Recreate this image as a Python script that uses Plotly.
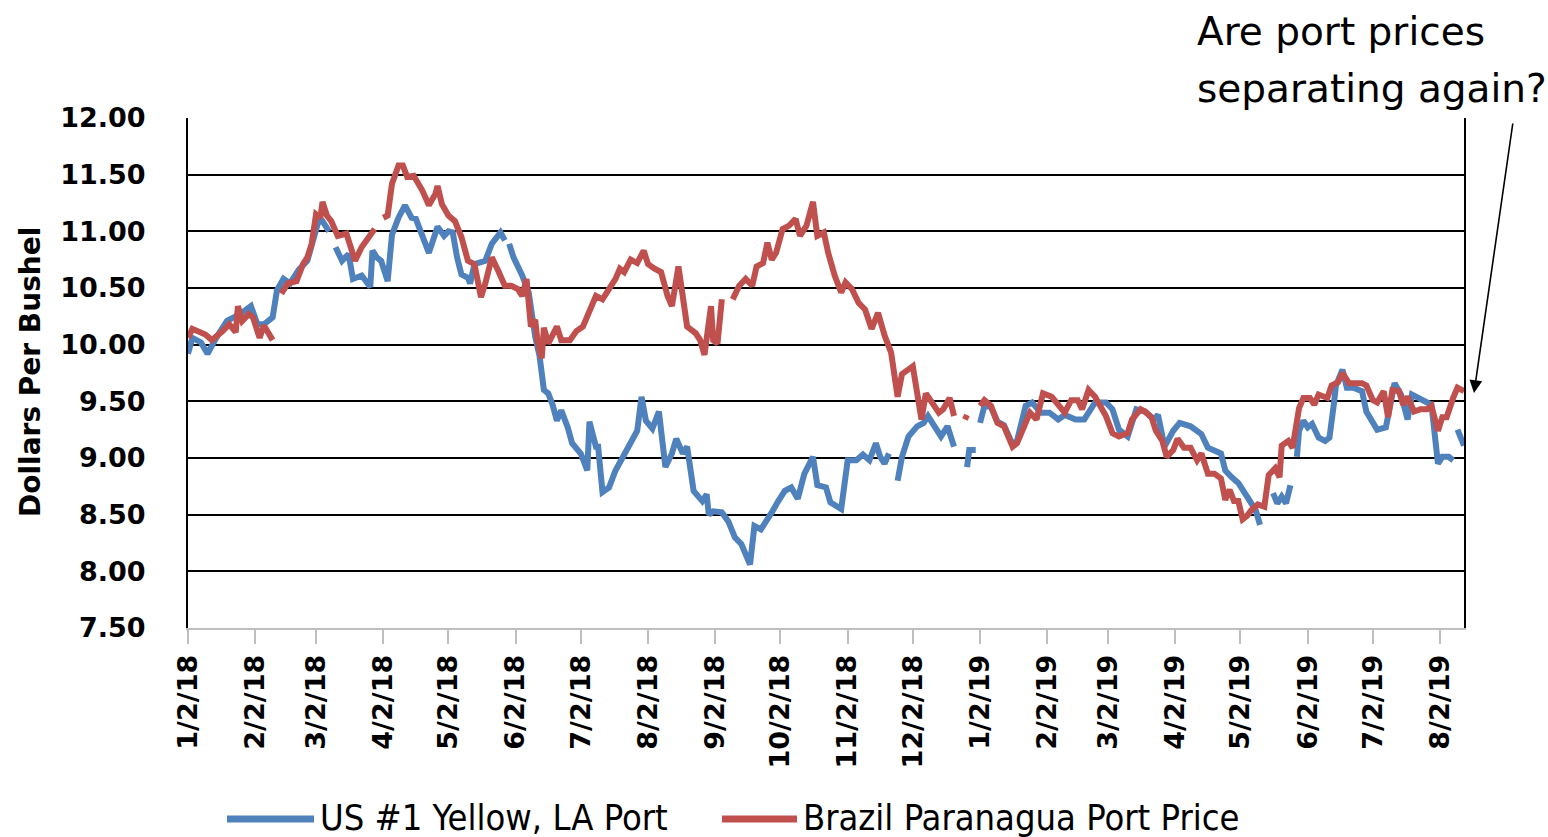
import plotly.graph_objects as go

# ---------------- data ----------------
us_dates = [
    "2018-01-02", "2018-01-04", "2018-01-08", "2018-01-11", "2018-01-15", "2018-01-20", "2018-01-26",
    "2018-01-31", "2018-02-03", "2018-02-06", "2018-02-10", "2018-02-12", "2018-02-15", "2018-02-18",
    "2018-02-22", "2018-02-26", "2018-03-03", "2018-03-05", "2018-03-08", "2018-03-10", "2018-03-11",
    "2018-03-14", "2018-03-17", "2018-03-19", "2018-03-23", "2018-03-27", "2018-03-28", "2018-03-30",
    "2018-04-01", "2018-04-04", "2018-04-06", "2018-04-09", "2018-04-12", "2018-04-15", "2018-04-17",
    "2018-04-20", "2018-04-23", "2018-04-27", "2018-04-30", "2018-05-02", "2018-05-04", "2018-05-06",
    "2018-05-08", "2018-05-11", "2018-05-12", "2018-05-14", "2018-05-19", "2018-05-22", "2018-05-26",
    "2018-05-28", "2018-05-29", "2018-05-30", "2018-06-01", "2018-06-05", "2018-06-08", "2018-06-11",
    "2018-06-13", "2018-06-15", "2018-06-17", "2018-06-19", "2018-06-21", "2018-06-23", "2018-06-26",
    "2018-06-28", "2018-07-02", "2018-07-05", "2018-07-06", "2018-07-09", "2018-07-10", "2018-07-12",
    "2018-07-15", "2018-07-18", "2018-07-21", "2018-07-25", "2018-07-28", "2018-07-30", "2018-08-01",
    "2018-08-04", "2018-08-07", "2018-08-10", "2018-08-13", "2018-08-15", "2018-08-18", "2018-08-20",
    "2018-08-23", "2018-08-27", "2018-08-29", "2018-08-30", "2018-09-01", "2018-09-05", "2018-09-08",
    "2018-09-11", "2018-09-14", "2018-09-18", "2018-09-20", "2018-09-23", "2018-09-25", "2018-09-28",
    "2018-10-01", "2018-10-04", "2018-10-07", "2018-10-10", "2018-10-13", "2018-10-17", "2018-10-19",
    "2018-10-23", "2018-10-25", "2018-10-30", "2018-11-02", "2018-11-06", "2018-11-09", "2018-11-12",
    "2018-11-15", "2018-11-17", "2018-11-19", "2018-11-21", "2018-11-23", "2018-11-25", "2018-11-27",
    "2018-11-30", "2018-12-04", "2018-12-07", "2018-12-09", "2018-12-11", "2018-12-15", "2018-12-18",
    "2018-12-21", "2018-12-23", "2018-12-27", "2018-12-28", "2018-12-31", "2019-01-01", "2019-01-02",
    "2019-01-04", "2019-01-07", "2019-01-10", "2019-01-13", "2019-01-17", "2019-01-19", "2019-01-23",
    "2019-01-26", "2019-01-30", "2019-02-03", "2019-02-07", "2019-02-10", "2019-02-15", "2019-02-19",
    "2019-02-24", "2019-03-01", "2019-03-04", "2019-03-07", "2019-03-11", "2019-03-15", "2019-03-19",
    "2019-03-23", "2019-03-25", "2019-03-28", "2019-04-01", "2019-04-04", "2019-04-09", "2019-04-14",
    "2019-04-17", "2019-04-23", "2019-04-25", "2019-04-28", "2019-05-01", "2019-05-04", "2019-05-06",
    "2019-05-09", "2019-05-11", "2019-05-13", "2019-05-17", "2019-05-19", "2019-05-21", "2019-05-23",
    "2019-05-25", "2019-05-27", "2019-05-28", "2019-05-29", "2019-05-31", "2019-06-02", "2019-06-04",
    "2019-06-07", "2019-06-10", "2019-06-12", "2019-06-14", "2019-06-15", "2019-06-18", "2019-06-20",
    "2019-06-23", "2019-06-27", "2019-06-29", "2019-07-02", "2019-07-04", "2019-07-08", "2019-07-11",
    "2019-07-12", "2019-07-15", "2019-07-18", "2019-07-20", "2019-07-23", "2019-07-26", "2019-07-29",
    "2019-08-01", "2019-08-03", "2019-08-06", "2019-08-08", "2019-08-09", "2019-08-10", "2019-08-13",
]
us_values = [
    9.92, 10.06, 10.02, 9.92, 10.06, 10.21, 10.27,
    10.34, 10.18, 10.18, 10.24, 10.48, 10.58, 10.54,
    10.66, 10.74, 11.08, 11.09, 11.00, None, 10.86,
    10.74, 10.80, 10.58, 10.61, 10.51, 10.83, 10.77,
    10.74, 10.56, 10.97, 11.12, 11.23, 11.12, 11.11,
    10.95, 10.81, 11.04, 10.96, 11.00, 10.99, 10.77,
    10.62, 10.59, 10.54, 10.71, 10.74, 10.89, 10.99,
    10.92, None, 10.89, 10.77, 10.61, 10.46, 10.07,
    9.90, 9.60, 9.57, 9.47, 9.33, 9.42, 9.27,
    9.13, 9.04, 8.89, 9.32, 9.10, 9.10, 8.70,
    8.74, 8.89, 8.99, 9.13, 9.24, 9.54, 9.33,
    9.26, 9.41, 8.92, 9.04, 9.17, 9.04, 9.10,
    8.71, 8.62, 8.68, 8.50, 8.53, 8.52, 8.44,
    8.30, 8.24, 8.06, 8.40, 8.37, 8.44, 8.52,
    8.62, 8.71, 8.74, 8.64, 8.86, 9.01, 8.76,
    8.74, 8.61, 8.55, 8.98, 8.98, 9.03, 8.98,
    9.13, 9.01, 8.95, 9.04, None, 8.80, 9.01,
    9.19, 9.28, 9.31, 9.37, 9.31, 9.19, 9.28,
    9.10, None, 8.92, 9.07, 9.07, None, 9.31,
    9.46, 9.45, 9.32, 9.29, 9.12, 9.15, 9.46,
    9.49, 9.40, 9.40, 9.34, 9.38, 9.34, 9.34,
    9.49, 9.49, 9.43, 9.25, 9.19, 9.43, 9.41,
    9.34, 9.38, 9.10, 9.24, 9.31, 9.28, 9.21,
    9.09, 9.04, 8.89, 8.83, 8.78, 8.69, 8.62,
    8.54, 8.41, None, 8.69, 8.60, 8.66, 8.60,
    8.76, None, 9.01, 9.24, 9.33, 9.27, 9.30,
    9.18, 9.15, 9.18, 9.47, 9.64, 9.78, 9.62,
    9.62, 9.59, 9.41, 9.30, 9.25, 9.27, 9.59,
    9.66, 9.56, 9.34, 9.56, 9.53, 9.50, 9.47,
    8.95, 9.01, 9.01, 8.98, None, 9.25, 9.11,
]

br_dates = [
    "2018-01-02", "2018-01-04", "2018-01-10", "2018-01-13", "2018-01-18", "2018-01-21", "2018-01-24",
    "2018-01-25", "2018-01-27", "2018-01-30", "2018-02-01", "2018-02-04", "2018-02-06", "2018-02-10",
    "2018-02-12", "2018-02-14", "2018-02-17", "2018-02-21", "2018-02-24", "2018-02-26", "2018-02-28",
    "2018-03-02", "2018-03-04", "2018-03-05", "2018-03-07", "2018-03-09", "2018-03-12", "2018-03-16",
    "2018-03-20", "2018-03-23", "2018-03-26", "2018-03-29", "2018-03-31", "2018-04-02", "2018-04-04",
    "2018-04-06", "2018-04-09", "2018-04-11", "2018-04-13", "2018-04-16", "2018-04-20", "2018-04-23",
    "2018-04-26", "2018-04-27", "2018-04-29", "2018-05-02", "2018-05-05", "2018-05-08", "2018-05-11",
    "2018-05-14", "2018-05-17", "2018-05-19", "2018-05-22", "2018-05-25", "2018-05-28", "2018-05-31",
    "2018-06-03", "2018-06-05", "2018-06-07", "2018-06-09", "2018-06-11", "2018-06-12", "2018-06-14",
    "2018-06-15", "2018-06-17", "2018-06-21", "2018-06-23", "2018-06-27", "2018-06-30", "2018-07-03",
    "2018-07-06", "2018-07-09", "2018-07-12", "2018-07-15", "2018-07-18", "2018-07-20", "2018-07-22",
    "2018-07-25", "2018-07-28", "2018-07-31", "2018-08-02", "2018-08-05", "2018-08-08", "2018-08-11",
    "2018-08-13", "2018-08-16", "2018-08-18", "2018-08-20", "2018-08-24", "2018-08-26", "2018-08-28",
    "2018-08-31", "2018-09-01", "2018-09-03", "2018-09-05", "2018-09-08", "2018-09-10", "2018-09-13",
    "2018-09-16", "2018-09-19", "2018-09-21", "2018-09-24", "2018-09-26", "2018-09-28", "2018-09-30",
    "2018-10-03", "2018-10-06", "2018-10-09", "2018-10-11", "2018-10-14", "2018-10-17", "2018-10-19",
    "2018-10-22", "2018-10-24", "2018-10-27", "2018-10-30", "2018-11-01", "2018-11-04", "2018-11-07",
    "2018-11-10", "2018-11-13", "2018-11-16", "2018-11-19", "2018-11-22", "2018-11-25", "2018-11-27",
    "2018-12-02", "2018-12-04", "2018-12-06", "2018-12-08", "2018-12-11", "2018-12-14", "2018-12-16",
    "2018-12-19", "2018-12-21", "2018-12-23", "2018-12-26", "2018-12-27", "2018-12-30", "2019-01-02",
    "2019-01-04", "2019-01-07", "2019-01-10", "2019-01-13", "2019-01-17", "2019-01-19", "2019-01-23",
    "2019-01-25", "2019-01-28", "2019-01-31", "2019-02-04", "2019-02-07", "2019-02-10", "2019-02-13",
    "2019-02-16", "2019-02-18", "2019-02-21", "2019-02-24", "2019-02-27", "2019-03-01", "2019-03-04",
    "2019-03-07", "2019-03-11", "2019-03-13", "2019-03-17", "2019-03-19", "2019-03-22", "2019-03-24",
    "2019-03-27", "2019-03-29", "2019-04-01", "2019-04-03", "2019-04-06", "2019-04-09", "2019-04-12",
    "2019-04-14", "2019-04-17", "2019-04-20", "2019-04-23", "2019-04-25", "2019-04-27", "2019-04-29",
    "2019-05-01", "2019-05-03", "2019-05-05", "2019-05-07", "2019-05-10", "2019-05-13", "2019-05-15",
    "2019-05-18", "2019-05-20", "2019-05-21", "2019-05-24", "2019-05-26", "2019-05-29", "2019-05-31",
    "2019-06-03", "2019-06-05", "2019-06-07", "2019-06-11", "2019-06-13", "2019-06-16", "2019-06-18",
    "2019-06-21", "2019-06-23", "2019-06-27", "2019-06-29", "2019-07-02", "2019-07-04", "2019-07-07",
    "2019-07-09", "2019-07-11", "2019-07-14", "2019-07-16", "2019-07-18", "2019-07-21", "2019-07-24",
    "2019-07-27", "2019-07-29", "2019-08-01", "2019-08-03", "2019-08-05", "2019-08-08", "2019-08-10",
    "2019-08-13",
]
br_values = [
    10.06, 10.14, 10.09, 10.04, 10.12, 10.18, 10.11,
    10.34, 10.21, 10.27, 10.24, 10.06, 10.17, 10.04,
    None, 10.45, 10.54, 10.56, 10.71, 10.77, 10.89,
    11.15, 11.12, 11.26, 11.14, 11.09, 10.96, 10.98,
    10.74, 10.86, 10.95, 11.02, None, 11.12, 11.14,
    11.42, 11.58, 11.58, 11.48, 11.49, 11.36, 11.23,
    11.33, 11.40, 11.24, 11.14, 11.09, 10.95, 10.74,
    10.71, 10.42, 10.54, 10.77, 10.65, 10.52, 10.52,
    10.49, 10.43, 10.58, 10.16, 10.22, 10.04, 9.88,
    10.15, 10.01, 10.16, 10.04, 10.04, 10.12, 10.16,
    10.28, 10.43, 10.40, 10.49, 10.58, 10.67, 10.64,
    10.75, 10.72, 10.83, 10.71, 10.67, 10.64, 10.43,
    10.34, 10.69, 10.40, 10.16, 10.10, 10.04, 9.91,
    10.34, 10.04, 10.01, 10.40, None, 10.40, 10.52,
    10.58, 10.52, 10.69, 10.72, 10.90, 10.75, 10.81,
    11.02, 11.05, 11.11, 10.96, 11.05, 11.26, 10.96,
    10.99, 10.81, 10.61, 10.46, 10.55, 10.49, 10.37,
    10.31, 10.14, 10.28, 10.08, 9.93, 9.54, 9.74,
    9.81, 9.60, 9.34, 9.57, 9.49, 9.40, 9.43,
    9.53, 9.37, None, 9.34, 9.38, None, 9.46,
    9.51, 9.46, 9.31, 9.28, 9.10, 9.13, 9.31,
    9.40, 9.34, 9.57, 9.54, 9.46, 9.40, 9.51,
    9.51, 9.43, 9.60, 9.54, 9.43, 9.37, 9.22,
    9.19, 9.22, 9.34, 9.43, 9.41, 9.36, 9.24,
    9.15, 9.01, 9.07, 9.17, 9.09, 9.09, 8.98,
    9.04, 8.86, 8.86, 8.82, 8.63, 8.72, 8.62,
    8.62, 8.46, 8.49, 8.54, 8.59, 8.57, 8.85,
    8.91, 8.83, 9.11, 9.15, 9.09, 9.44, 9.53,
    9.53, 9.47, 9.56, 9.53, 9.64, 9.67, 9.75,
    9.66, 9.66, 9.66, 9.64, 9.51, 9.49, 9.59,
    9.36, 9.60, 9.59, 9.47, 9.54, 9.41, 9.43,
    9.43, 9.46, 9.24, 9.36, 9.36, 9.53, 9.62,
    9.59,
]

tick_dates = [
    "2018-01-02", "2018-02-02", "2018-03-02", "2018-04-02", "2018-05-02", "2018-06-02", "2018-07-02",
    "2018-08-02", "2018-09-02", "2018-10-02", "2018-11-02", "2018-12-02", "2019-01-02", "2019-02-02",
    "2019-03-02", "2019-04-02", "2019-05-02", "2019-06-02", "2019-07-02", "2019-08-02",
]
tick_labels = [
    "1/2/18", "2/2/18", "3/2/18", "4/2/18", "5/2/18", "6/2/18", "7/2/18", "8/2/18", "9/2/18",
    "10/2/18", "11/2/18", "12/2/18", "1/2/19", "2/2/19", "3/2/19", "4/2/19", "5/2/19", "6/2/19",
    "7/2/19", "8/2/19",
]
x_range = ["2018-01-02", "2019-08-13"]
y_range = [7.5, 12.0]
series_names = ["US #1 Yellow, LA Port", "Brazil Paranagua Port Price"]
y_title = "Dollars Per Bushel"
note_lines = ["Are port prices", "separating again?"]

# ---------------- figure ----------------
BLUE = "#4F81BD"
RED = "#C0504D"
FONT = "DejaVu Sans"
colors = [BLUE, RED]

fig = go.Figure()
fig.add_trace(go.Scatter(x=us_dates, y=us_values, mode="lines", name=series_names[0],
                         line=dict(color=BLUE, width=6), connectgaps=False, showlegend=False))
fig.add_trace(go.Scatter(x=br_dates, y=br_values, mode="lines", name=series_names[1],
                         line=dict(color=RED, width=6), connectgaps=False, showlegend=False))

L, R, T, B = 188, 84, 118, 209
W, H = 1548, 837
pw, ph = W - L - R, H - T - B


def px_to_paper(px, py):
    return (px - L) / pw, (H - B - py) / ph


fig.update_layout(
    width=W, height=H,
    margin=dict(l=L, r=R, t=T, b=B, pad=0),
    paper_bgcolor="white", plot_bgcolor="white",
    showlegend=False,
    xaxis=dict(type="date", range=x_range, tickmode="array", tickvals=tick_dates,
               ticktext=tick_labels, tickangle=-90, ticks="outside", ticklen=14,
               tickcolor="#BFBFBF", tickwidth=2, showline=True, linecolor="#BFBFBF",
               linewidth=2, showgrid=False, zeroline=False, ticklabelstandoff=0,
               automargin=False,
               tickfont=dict(family=FONT, size=27, color="black", weight="bold")),
    yaxis=dict(range=y_range, tick0=7.5, dtick=0.5, tickformat=".2f", showgrid=True,
               gridcolor="black", gridwidth=2, showline=True, linecolor="black",
               linewidth=2, mirror=True, ticks="", zeroline=False, ticklabelstandoff=35,
               automargin=False,
               tickfont=dict(family=FONT, size=27, color="black", weight="bold")),
)

# legend (drawn as line swatches + text, matching the long swatches of the reference)
legend_items = [(series_names[0], colors[0], 227, 314, 318),
                (series_names[1], colors[1], 722, 797, 801)]
for name, col, sx0, sx1, tx0 in legend_items:
    a0, yy = px_to_paper(sx0, 819)
    a1, _ = px_to_paper(sx1, 819)
    fig.add_shape(type="line", xref="paper", yref="paper", x0=a0, x1=a1, y0=yy, y1=yy,
                  line=dict(color=col, width=7))
    tx, ty = px_to_paper(tx0, 817)
    fig.add_annotation(x=tx, y=ty, xref="paper", yref="paper", text=name, showarrow=False,
                       xanchor="left", yanchor="middle",
                       font=dict(family="DejaVu Sans Condensed", size=36, color="black"))

# y-axis title
tx, ty = px_to_paper(30, 372)
fig.add_annotation(x=tx, y=ty, xref="paper", yref="paper", text=y_title, showarrow=False,
                   textangle=-90, xanchor="center", yanchor="middle",
                   font=dict(family=FONT, size=28, color="black", weight="bold"))

# note text
for line, cy in zip(note_lines, [32, 89]):
    nx, ny = px_to_paper(1195, cy)
    fig.add_annotation(x=nx, y=ny, xref="paper", yref="paper", text=line, showarrow=False,
                       xanchor="left", yanchor="middle",
                       font=dict(family=FONT, size=39, color="black"))

# arrow
hx, hy = px_to_paper(1474, 393)
fig.add_annotation(x=hx, y=hy, xref="paper", yref="paper", text="", showarrow=True,
                   ax=1513 - 1474, ay=122 - 393, axref="pixel", ayref="pixel",
                   arrowhead=2, arrowsize=1.6, arrowwidth=1.6, arrowcolor="black")

fig.write_html("out.html", config={"displayModeBar": False},
               post_script="document.body.style.margin='0px';")
